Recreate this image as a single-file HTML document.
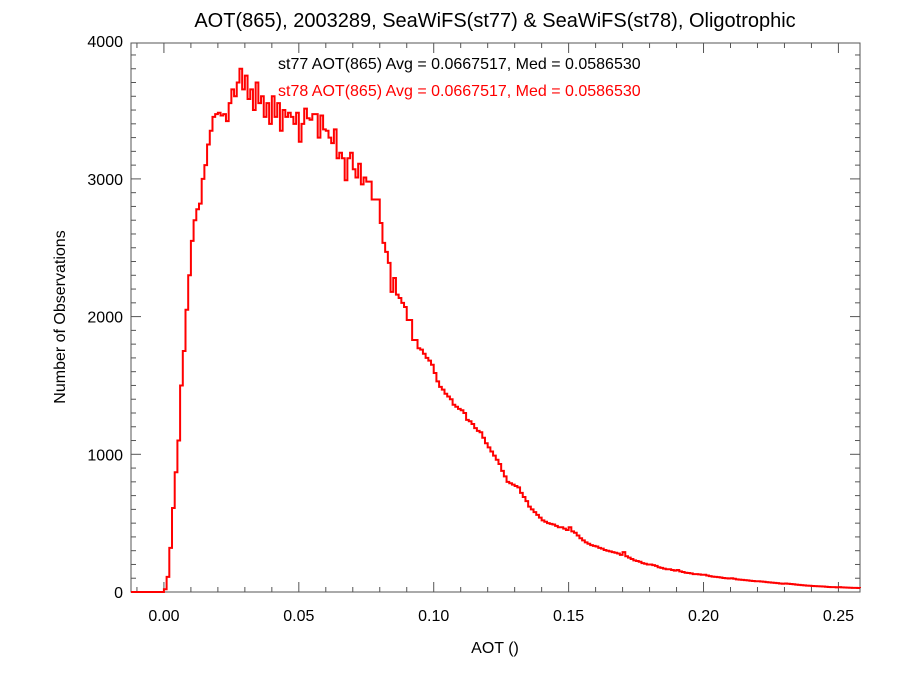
<!DOCTYPE html>
<html><head><meta charset="utf-8"><style>
body{margin:0;background:#fff}
svg text{font-family:"Liberation Sans",Arial,sans-serif}
</style></head><body>
<svg id="chart" width="900" height="675" viewBox="0 0 900 675" xmlns="http://www.w3.org/2000/svg">
<rect width="900" height="675" fill="#fff"/>
<text x="495" y="27" font-size="20" text-anchor="middle">AOT(865), 2003289, SeaWiFS(st77) &amp; SeaWiFS(st78), Oligotrophic</text>
<text x="278" y="69" font-size="16" fill="#000">st77 AOT(865) Avg = 0.0667517, Med = 0.0586530</text>
<text x="278" y="96" font-size="16" fill="#ff0000">st78 AOT(865) Avg = 0.0667517, Med = 0.0586530</text>
<text transform="translate(65,317) rotate(-90)" font-size="16" text-anchor="middle">Number of Observations</text>
<text x="495" y="653" font-size="16" text-anchor="middle">AOT ()</text>
<g id="axes"></g>
<path id="hist" fill="none" stroke="#ff0000" stroke-width="2"/>
</svg>
<script>
const binStart = 0.0;
const binWidth = 0.001;
const counts = [20,110,320,610,870,1100,1500,1750,2050,2300,
2550,2700,2780,2820,3000,3100,3250,3350,3450,3470,
3480,3460,3470,3420,3550,3650,3600,3700,3800,3650,
3750,3580,3650,3500,3700,3550,3600,3450,3550,3400,
3600,3450,3550,3350,3500,3450,3480,3450,3400,
3480,3270,3400,3510,3440,3430,3470,3470,3300,3460,
3360,3350,3300,3260,3360,3150,3190,3150,2990,3150,
3190,3070,3010,3110,2960,3010,2980,2980,
2850,2850,2850,
2680,2535,2470,2390,2180,2280,2160,2135,2100,2070,
1975,1975,1830,1830,1770,1760,1730,1700,1680,1650,
1590,1530,1490,1470,1440,1420,1400,1360,1345,1330,
1320,1300,1250,1240,1220,1190,1170,1160,1120,1080,
1050,1020,990,960,930,880,840,800,790,780,
770,760,720,690,660,620,600,580,560,540,
520,510,500,495,490,480,470,470,460,450,
470,440,430,410,390,375,360,350,340,335,
330,320,315,305,300,295,290,285,280,270,
290,260,250,240,230,225,220,210,205,200,
200,195,190,180,175,170,165,165,160,155,
160,150,145,140,138,135,130,130,128,125,
125,120,115,112,110,108,105,102,100,98,
100,96,92,90,88,86,84,82,80,78,
78,76,74,72,70,68,66,64,62,60,
62,60,58,56,54,52,50,48,46,45,
44,43,42,41,40,38,36,35,35,34,
35,34,33,32,31,30,30,29,28];
const xTickLabels = ["0.00","0.05","0.10","0.15","0.20","0.25"];
const xTickValues = [0,0.05,0.10,0.15,0.20,0.25];
const yTickValues = [0,1000,2000,3000,4000];
const yTickLabels = ["0","1000","2000","3000","4000"];

const L=131,R=860,T=43,B=592;
const xMin=-0.0122,xMax=0.258;
const yPerUnit=0.1377;
const X=v=>L+(v-xMin)/(xMax-xMin)*(R-L);
const Y=v=>B-v*yPerUnit;
const ns="http://www.w3.org/2000/svg";
const ax=document.getElementById('axes');
function line(x1,y1,x2,y2,name){const l=document.createElementNS(ns,'line');
l.setAttribute('x1',x1);l.setAttribute('y1',y1);l.setAttribute('x2',x2);l.setAttribute('y2',y2);
l.setAttribute('stroke','#555');l.setAttribute('stroke-width','1');


ax.appendChild(l);}
function text(x,y,s,anchor,name){const t=document.createElementNS(ns,'text');
t.setAttribute('x',x);t.setAttribute('y',y);t.setAttribute('font-size','16');t.setAttribute('text-anchor',anchor);t.textContent=s;


ax.appendChild(t);}
const fr=document.createElementNS(ns,'rect');
fr.setAttribute('x',L);fr.setAttribute('y',T);fr.setAttribute('width',R-L);fr.setAttribute('height',B-T);
fr.setAttribute('fill','none');fr.setAttribute('stroke','#555');


ax.appendChild(fr);
for(let k=-1;k<=25;k++){const v=k*0.01,x=X(v);if(x<L||x>R)continue;
 const major=(k%5===0);const len=major?10:5;
 line(x,B,x,B-len,'x-tick');line(x,T,x,T+len,'x-tick-top');}
xTickValues.forEach((v,i)=>text(X(v),B+29,xTickLabels[i],'middle','x-tick-label'));
for(let v=0;v*yPerUnit<=B-T;v+=100){const y=Y(v);const major=(v%1000===0);const len=major?10:5;
 line(L,y,L+len,y,'y-tick');line(R,y,R-len,y,'y-tick-right');}
yTickValues.forEach((v,i)=>text(L-8,Y(v)+6,yTickLabels[i],'end','y-tick-label'));
let d=`M${L},${Y(0)} L${X(binStart)},${Y(0)}`;
counts.forEach((c,i)=>{const x0=X(binStart+i*binWidth),x1=Math.min(R,X(binStart+(i+1)*binWidth));
 d+=` L${x0},${Y(c)} L${x1},${Y(c)}`;});
document.getElementById('hist').setAttribute('d',d);
</script>
</body></html>
